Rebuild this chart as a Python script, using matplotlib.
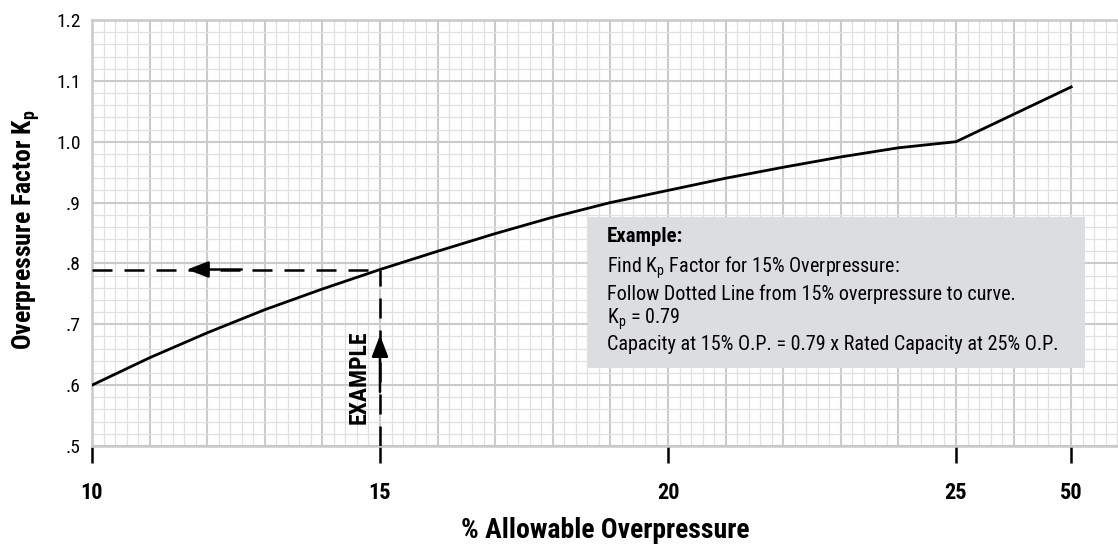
import numpy as np
import matplotlib.pyplot as plt
from matplotlib import font_manager
from matplotlib.patches import Rectangle

# data
pct = [10, 11, 12, 13, 14, 15, 16, 17, 18, 19, 20, 21, 22, 23, 24, 25, 50]
kp = [0.60, 0.645, 0.686, 0.724, 0.758, 0.79, 0.82, 0.849, 0.876, 0.90,
      0.92, 0.94, 0.958, 0.975, 0.99, 1.0, 1.09]
xtick_vals = [10, 15, 20, 25, 50]
ytick_vals = [0.5, 0.6, 0.7, 0.8, 0.9, 1.0, 1.1, 1.2]
ytick_labels = ['.5', '.6', '.7', '.8', '.9', '1.0', '1.1', '1.2']
example_pct = 15
example_kp = 0.79

names = {f.name for f in font_manager.fontManager.ttflist}
narrow = 'Liberation Sans'
for cand in ['Liberation Sans Narrow', 'Roboto Condensed', 'Open Sans Condensed',
             'Noto Sans Condensed', 'DejaVu Sans Condensed', 'Liberation Sans']:
    if cand in names:
        narrow = cand
        break
plt.rcParams['font.family'] = [narrow, 'DejaVu Sans']


def to_u(p):
    # axis is linear 10..25, then compressed 25..50
    p = np.asarray(p, dtype=float)
    return np.where(p <= 25, p - 10, 15 + (p - 25) * 2 / 25)


fig = plt.figure(figsize=(11.18, 5.44), dpi=100)
ax = fig.add_axes([92 / 1118, 98 / 544, 1026 / 1118, 426 / 544])
xmax = 1026 / 57.6
ax.set_xlim(0, xmax)
ax.set_ylim(0.5, 1.2)

# graph paper grid
for i in range(int(xmax / 0.2) + 1):
    u = i * 0.2
    major = i % 5 == 0
    ax.axvline(u, color='#cbcbcb' if major else '#e0e0e0',
               lw=1.5 if major else 0.9, zorder=0)
for i in range(36):
    y = 0.5 + i * 0.02
    major = i % 5 == 0
    ax.axhline(y, color='#cbcbcb' if major else '#e0e0e0',
               lw=1.5 if major else 0.9, zorder=0)

ax.spines['right'].set_visible(False)
for s in ['left', 'top', 'bottom']:
    ax.spines[s].set_color('#c9c9c9')
    ax.spines[s].set_linewidth(1.8)

ax.set_xticks(to_u(xtick_vals))
ax.set_xticklabels([str(v) for v in xtick_vals], fontsize=16, fontweight='bold')
ax.tick_params(axis='x', direction='out', length=12, width=1.8, color='black', pad=14)
ax.set_yticks(ytick_vals)
ax.set_yticklabels(ytick_labels, fontsize=14)
ax.tick_params(axis='y', length=0, pad=8)

# curve
ax.plot(to_u(pct), kp, color='black', lw=2.0, zorder=3)

# example dashed lines
ux = float(to_u(example_pct))
ax.plot([0, ux], [example_kp, example_kp], color='black', lw=1.8,
        dashes=(8, 4.8), zorder=3)
ax.plot([ux, ux], [0.5, example_kp], color='black', lw=1.8,
        dashes=(8, 4.8), zorder=3)
head = '-|>,head_length=1.3,head_width=0.5'
ax.annotate('', xy=(1.65, example_kp), xytext=(2.6, example_kp),
            arrowprops=dict(arrowstyle=head, color='black', lw=1.8,
                            shrinkA=0, shrinkB=0), zorder=4)
ax.annotate('', xy=(ux, 0.682), xytext=(ux, 0.589),
            arrowprops=dict(arrowstyle=head, color='black', lw=1.8,
                            shrinkA=0, shrinkB=0), zorder=4)
ax.text(ux - 0.36, 0.613, 'EXAMPLE', rotation=90, ha='center', va='center',
        fontsize=17, fontweight='bold', zorder=4)

# example box
box = Rectangle((588 / 1118, (544 - 368) / 544), 497 / 1118, 151 / 544,
                transform=fig.transFigure, facecolor='#dcdddf', edgecolor='none',
                zorder=2)
ax.add_patch(box)
bx = 607 / 1118
fig.text(bx, 1 - 237 / 544, 'Example:', fontsize=15, fontweight='bold', va='center')
lines = ['Find K$_{\\mathregular{p}}$ Factor for 15% Overpressure:',
         'Follow Dotted Line from 15% overpressure to curve.',
         'K$_{\\mathregular{p}}$ = 0.79',
         'Capacity at 15% O.P. = 0.79 x Rated Capacity at 25% O.P.']
line_y = [268, 294, 319, 345]
for t, ly in zip(lines, line_y):
    fig.text(bx, 1 - ly / 544, t, fontsize=14.5, va='center')

fig.text(605 / 1118, 1 - 530 / 544, '% Allowable Overpressure', fontsize=20,
         fontweight='bold', ha='center', va='center')
fig.text(26 / 1118, 1 - 230 / 544, 'Overpressure Factor K$_{\\mathregular{p}}$',
         fontsize=18.5, fontweight='bold', rotation=90, ha='center', va='center')

fig.savefig('out.png', dpi=100)
